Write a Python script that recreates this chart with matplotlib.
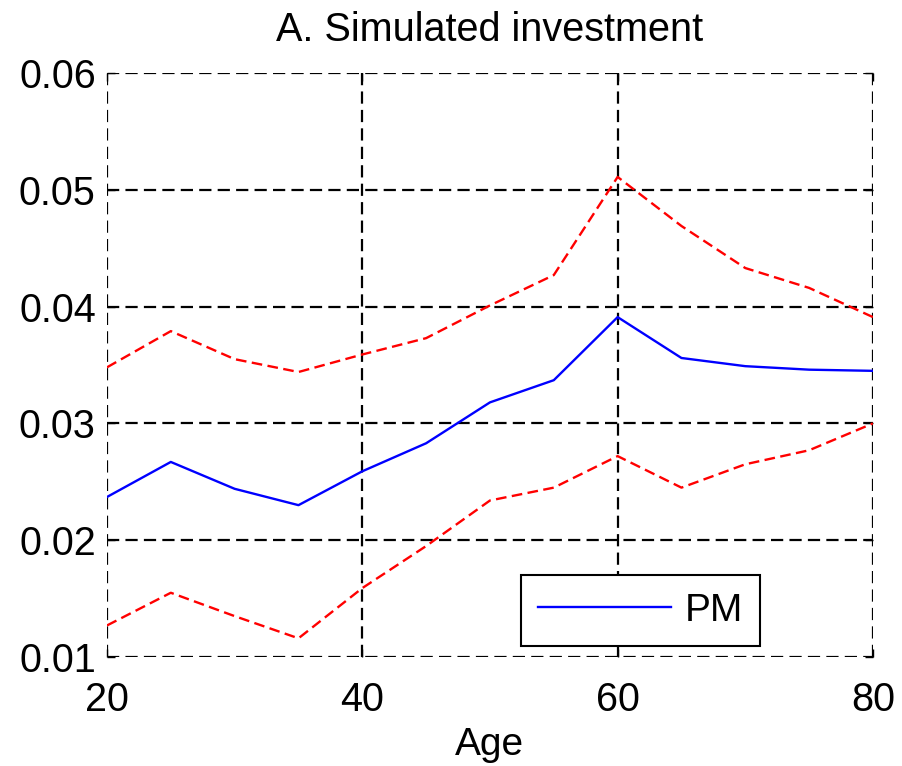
# Simulated investment by age: PM with upper/lower bands

import matplotlib
matplotlib.use('Agg')
import matplotlib.pyplot as plt

plt.rcParams['font.family'] = ['Liberation Sans', 'DejaVu Sans']

ages = [20, 25, 30, 35, 40, 45, 50, 55, 60, 65, 70, 75, 80]
pm = [0.0237, 0.0267, 0.0244, 0.0230, 0.0259, 0.0283, 0.0318, 0.0337,
      0.0391, 0.0356, 0.0349, 0.0346, 0.0345]
upper = [0.0348, 0.0379, 0.0355, 0.0344, 0.0359, 0.0373, 0.0401, 0.0427,
         0.0511, 0.0469, 0.0433, 0.0416, 0.0391]
lower = [0.0127, 0.0155, 0.0135, 0.0116, 0.0159, 0.0195, 0.0234, 0.0245,
         0.0272, 0.0245, 0.0265, 0.0277, 0.0300]

xticks = [20, 40, 60, 80]
yticks = [0.01, 0.02, 0.03, 0.04, 0.05, 0.06]
ytick_labels = ['0.01', '0.02', '0.03', '0.04', '0.05', '0.06']

fig = plt.figure(figsize=(9.02, 7.66), dpi=100)
ax = fig.add_axes([0.1186, 0.1423, 0.8492, 0.7624])

ax.plot(ages, pm, color='blue', lw=1.7, label='PM')
ax.plot(ages, upper, color='red', lw=1.7, linestyle=(0, (4.5, 2.3)))
ax.plot(ages, lower, color='red', lw=1.7, linestyle=(0, (4.5, 2.3)))

ax.set_xlim(20, 80)
ax.set_ylim(0.01, 0.06)
ax.set_xticks(xticks)
ax.set_yticks(yticks)
ax.set_yticklabels(ytick_labels)

# dashed grid doubles as the box, like the MATLAB original
ax.grid(True, color='black', lw=1.6, linestyle=(0, (5.5, 2.8)))
ax.set_axisbelow(True)
for s in ax.spines.values():
    s.set_visible(False)
ax.tick_params(direction='in', length=6, width=1, top=True, right=True,
               labelsize=28.5)
ax.tick_params(axis='x', pad=17)
ax.tick_params(axis='y', pad=8)

ax.set_title('A. Simulated investment', fontsize=28.5, pad=23)
ax.set_xlabel('Age', fontsize=28, labelpad=6)

leg = ax.legend(loc='lower left', bbox_to_anchor=(0.5405, 0.0188),
                borderaxespad=0, fontsize=28, fancybox=False,
                edgecolor='black', framealpha=1, handlelength=3.4,
                handletextpad=0.35, borderpad=0.45)
leg.get_frame().set_linewidth(1.5)

plt.savefig('out.png', dpi=100)
